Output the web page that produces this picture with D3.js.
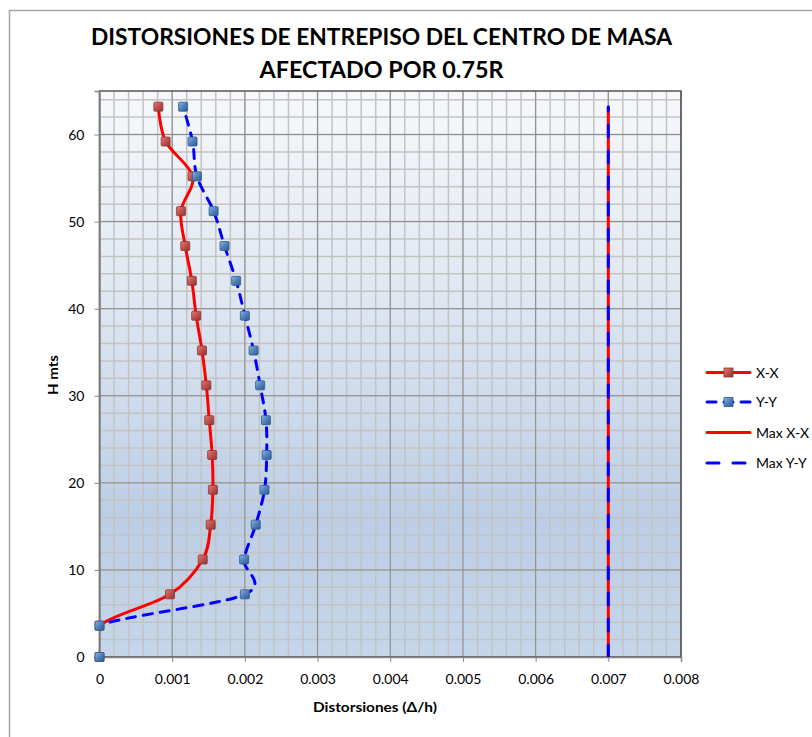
<!DOCTYPE html>
<html>
<head>
<meta charset="utf-8">
<script src="https://cdn.jsdelivr.net/npm/d3@7"></script>
<style>
  html, body { margin: 0; padding: 0; background: #ffffff; }
  svg text { font-family: Lato, "Open Sans", sans-serif; }
</style>
</head>
<body>
<svg id="chart" width="812" height="737"></svg>
<script>
// ---------- DATA ----------
const titleLines = ["DISTORSIONES DE ENTREPISO DEL CENTRO DE MASA", "AFECTADO POR 0.75R"];
const heights = [0, 3.6, 7.2, 11.2, 15.2, 19.2, 23.2, 27.2, 31.2, 35.2, 39.2, 43.2, 47.2, 51.2, 55.2, 59.2, 63.2];
const driftXX = [0, 0, 0.00097, 0.00142, 0.00153, 0.00156, 0.00155, 0.00151, 0.00147, 0.00141, 0.00133, 0.00127, 0.00118, 0.00112, 0.00128, 0.00091, 0.00081];
const driftYY = [0, 0, 0.00200, 0.00199, 0.00215, 0.00227, 0.00230, 0.00229, 0.00221, 0.00212, 0.00200, 0.00188, 0.00172, 0.00157, 0.00134, 0.00128, 0.00115];
const maxHeights = [0, 63.2];
const maxXX = [0.007, 0.007];
const maxYY = [0.007, 0.007];
const xTicks = [0, 0.001, 0.002, 0.003, 0.004, 0.005, 0.006, 0.007, 0.008];
const xTickLabels = ["0", "0.001", "0.002", "0.003", "0.004", "0.005", "0.006", "0.007", "0.008"];
const yTicks = [0, 10, 20, 30, 40, 50, 60];
const seriesNames = ["X-X", "Y-Y", "Max X-X", "Max Y-Y"];
const xTitle = "Distorsiones (Δ/h)";
const yTitle = "H mts";

// ---------- LAYOUT ----------
const svg = d3.select("#chart");
const L = 99.5, R = 681, T = 91, B = 657;
const x = d3.scaleLinear().domain([0, 0.008]).range([L, R]);
const y = d3.scaleLinear().domain([0, 65]).range([B, T]);

const defs = svg.append("defs");
const bg = defs.append("linearGradient").attr("id", "bg").attr("x1", 0).attr("y1", 0).attr("x2", 0).attr("y2", 1);
[[0, "#f6f8fb"], [0.35, "#e0e8f2"], [0.75, "#bccee5"], [1, "#c6d6ea"]].forEach(s =>
  bg.append("stop").attr("offset", s[0]).attr("stop-color", s[1]));
const gR = defs.append("linearGradient").attr("id", "mR").attr("x1", 0).attr("y1", 0).attr("x2", 1).attr("y2", 1);
[[0, "#e07d7a"], [0.5, "#c0504d"], [1, "#8c3532"]].forEach(s =>
  gR.append("stop").attr("offset", s[0]).attr("stop-color", s[1]));
const gB = defs.append("linearGradient").attr("id", "mB").attr("x1", 0).attr("y1", 0).attr("x2", 1).attr("y2", 1);
[[0, "#8fb4e0"], [0.5, "#4f81bd"], [1, "#2f5a8e"]].forEach(s =>
  gB.append("stop").attr("offset", s[0]).attr("stop-color", s[1]));
defs.append("clipPath").attr("id", "plotClip").append("rect")
  .attr("x", L - 1).attr("y", T).attr("width", R - L + 1).attr("height", B - T);

// outer chart border
svg.append("rect").attr("x", 9.5).attr("y", 10.5).attr("width", 900).attr("height", 900)
  .attr("fill", "none").attr("stroke", "#a5a5a5").attr("stroke-width", 1.5);

// title
titleLines.forEach((t, i) => {
  svg.append("text").attr("x", 381.5).attr("y", i === 0 ? 45 : 78)
    .attr("text-anchor", "middle").attr("font-weight", "bold").attr("font-size", 22)
    .attr("textLength", i === 0 ? 581 : 244).attr("lengthAdjust", "spacingAndGlyphs")
    .attr("fill", "#000").text(t);
});

// plot background
svg.append("rect").attr("x", L).attr("y", T).attr("width", R - L).attr("height", B - T).attr("fill", "url(#bg)");

// minor gridlines
const gx = svg.append("g");
d3.range(0, 41).map(i => i * 0.0002).forEach(v => {
  gx.append("line").attr("x1", x(v)).attr("x2", x(v)).attr("y1", T).attr("y2", B)
    .attr("stroke", "#c3c3c3").attr("stroke-width", 1.5);
});
d3.range(0, 33).map(i => i * 2).forEach(v => {
  gx.append("line").attr("x1", L).attr("x2", R).attr("y1", y(v)).attr("y2", y(v))
    .attr("stroke", "#c3c3c3").attr("stroke-width", 1.5);
});
// major gridlines
xTicks.forEach(v => {
  gx.append("line").attr("x1", x(v)).attr("x2", x(v)).attr("y1", T).attr("y2", B)
    .attr("stroke", "#8c8c8c").attr("stroke-width", 1);
});
yTicks.forEach(v => {
  gx.append("line").attr("x1", L).attr("x2", R).attr("y1", y(v)).attr("y2", y(v))
    .attr("stroke", "#8c8c8c").attr("stroke-width", 1);
});

// plot border
svg.append("rect").attr("x", L).attr("y", T).attr("width", R - L).attr("height", B - T)
  .attr("fill", "none").attr("stroke", "#555").attr("stroke-width", 1.5);

// axes
const xAxis = d3.axisBottom(x).tickValues(xTicks).tickFormat((d, i) => xTickLabels[i]).tickSize(5).tickPadding(12);
const gxa = svg.append("g").attr("transform", `translate(0,${B})`).call(xAxis);
const yAxis = d3.axisLeft(y).tickValues(yTicks).tickFormat(d3.format("d")).tickSize(5).tickPadding(10);
const gya = svg.append("g").attr("transform", `translate(${L},0)`).call(yAxis);
[gxa, gya].forEach(g => {
  g.select(".domain").attr("stroke", "#868686").attr("stroke-width", 1.5);
  g.selectAll(".tick line").attr("stroke", "#868686");
  g.selectAll(".tick text").attr("font-size", 14).attr("fill", "#000").attr("font-family", "Lato, sans-serif");
});

// axis titles
svg.append("text").attr("x", 375).attr("y", 712).attr("text-anchor", "middle")
  .attr("font-size", 13).attr("font-weight", "bold")
  .attr("textLength", 124).attr("lengthAdjust", "spacingAndGlyphs").text(xTitle);
svg.append("text").attr("transform", "translate(58,375) rotate(-90)").attr("text-anchor", "middle")
  .attr("font-size", 13).attr("font-weight", "bold")
  .attr("textLength", 40).attr("lengthAdjust", "spacingAndGlyphs").text(yTitle);

// series
const curve = d3.curveCatmullRom.alpha(0);
const lineGen = d3.line().x(d => x(d[0])).y(d => y(d[1])).curve(curve);
const ptsXX = heights.map((h, i) => [driftXX[i], h]);
const ptsYY = heights.map((h, i) => [driftYY[i], h]);
const ptsMX = maxHeights.map((h, i) => [maxXX[i], h]);
const ptsMY = maxHeights.map((h, i) => [maxYY[i], h]);
const lineMX = d3.line().x(d => x(d[0])).y(d => y(d[1]));

const plot = svg.append("g").attr("clip-path", "url(#plotClip)");
plot.append("path").attr("d", lineGen(ptsXX)).attr("fill", "none").attr("stroke", "#ff0000")
  .attr("stroke-width", 3).attr("stroke-linejoin", "round").attr("stroke-linecap", "round");
plot.append("path").attr("d", lineGen(ptsYY)).attr("fill", "none").attr("stroke", "#0000ff")
  .attr("stroke-width", 3).attr("stroke-dasharray", "9,8").attr("stroke-linecap", "round");
plot.append("path").attr("d", lineMX(ptsMX)).attr("fill", "none").attr("stroke", "#ff0000").attr("stroke-width", 3);
plot.append("path").attr("d", lineMX(ptsMY)).attr("fill", "none").attr("stroke", "#0000ff")
  .attr("stroke-width", 3).attr("stroke-dasharray", "12,14").attr("stroke-linecap", "round");

function markers(pts, fill, stroke) {
  svg.append("g").selectAll("rect").data(pts).join("rect")
    .attr("x", d => x(d[0]) - 4.5).attr("y", d => y(d[1]) - 4.5)
    .attr("width", 9).attr("height", 9).attr("rx", 1)
    .attr("fill", fill).attr("stroke", stroke).attr("stroke-width", 0.8);
}
markers(ptsXX, "url(#mR)", "#8c3532");
markers(ptsYY, "url(#mB)", "#2f5a8e");

// legend
const legY = [372.5, 402, 432.5, 463];
const lg = svg.append("g");
const styles = [
  { c: "#ff0000", dash: null, m: "url(#mR)", ms: "#8c3532" },
  { c: "#0000ff", dash: "9,8", m: "url(#mB)", ms: "#2f5a8e" },
  { c: "#ff0000", dash: null, m: null },
  { c: "#0000ff", dash: "12,14", m: null }
];
seriesNames.forEach((n, i) => {
  const s = styles[i];
  lg.append("line").attr("x1", 707).attr("x2", 750).attr("y1", legY[i]).attr("y2", legY[i])
    .attr("stroke", s.c).attr("stroke-width", 3).attr("stroke-linecap", "round")
    .attr("stroke-dasharray", s.dash);
  if (s.m) {
    lg.append("rect").attr("x", 724).attr("y", legY[i] - 4.5).attr("width", 9).attr("height", 9)
      .attr("fill", s.m).attr("stroke", s.ms).attr("stroke-width", 0.8);
  }
  lg.append("text").attr("x", 756).attr("y", legY[i] + 5).attr("font-size", 14).attr("fill", "#000").text(n);
});
</script>
</body>
</html>
